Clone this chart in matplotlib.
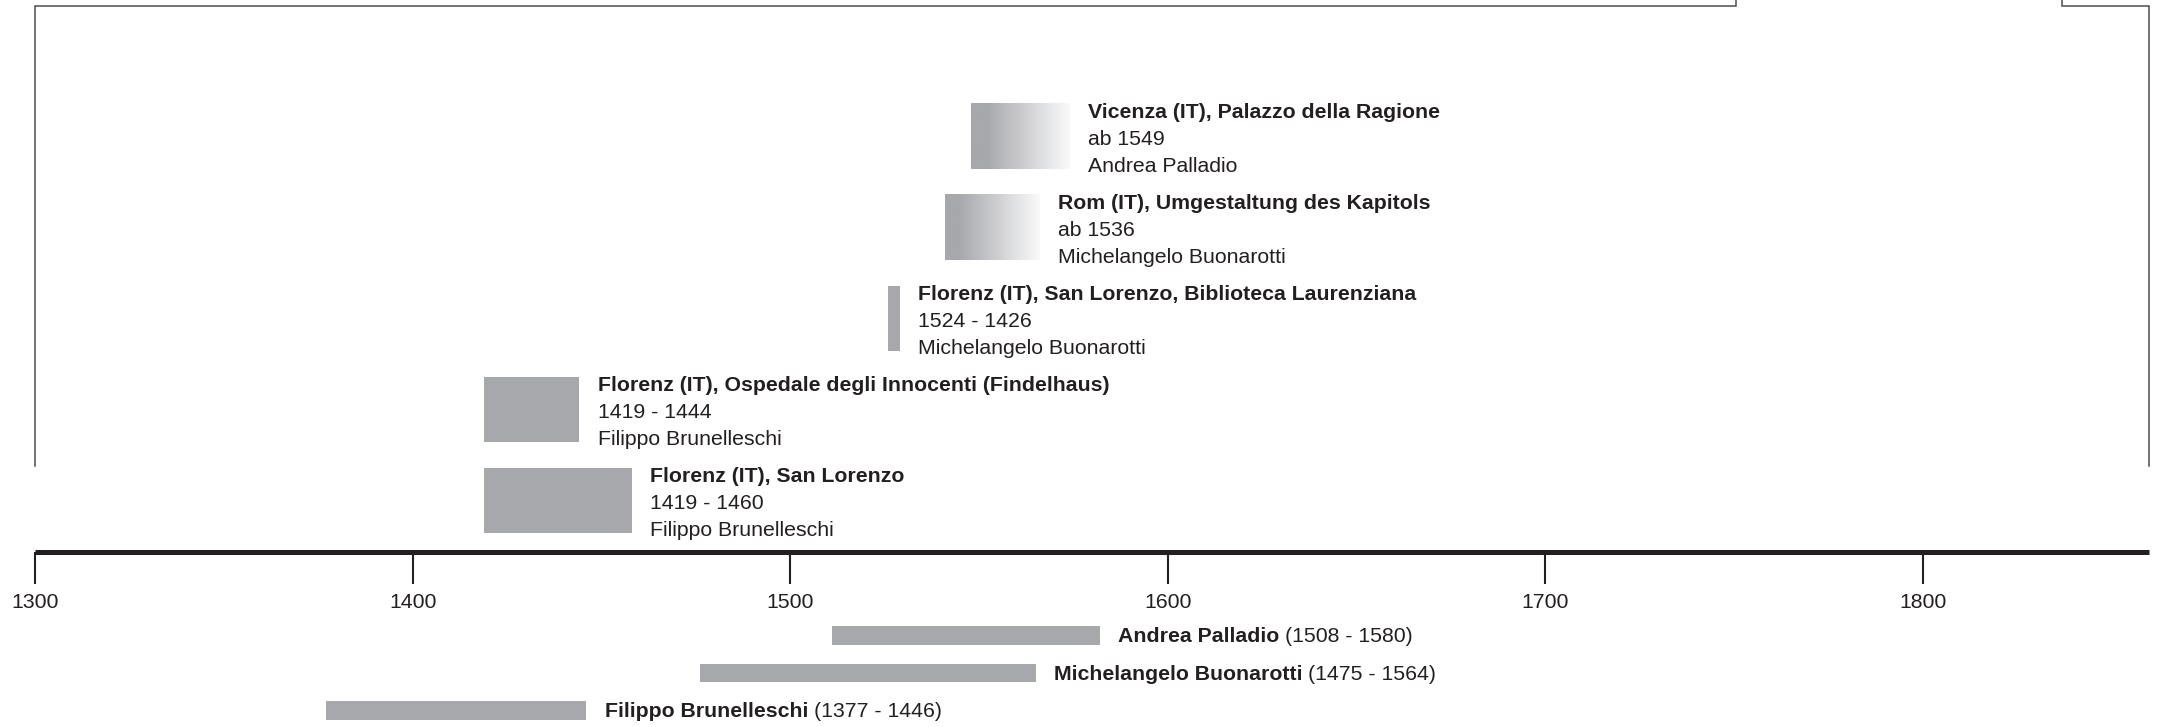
import numpy as np
import matplotlib
matplotlib.use("Agg")
import matplotlib.pyplot as plt
from matplotlib.colors import LinearSegmentedColormap

plt.rcParams['font.family'] = ['Liberation Sans', 'DejaVu Sans']

# --- buildings (bottom row first) ---
buildings = [
    "Florenz (IT), San Lorenzo",
    "Florenz (IT), Ospedale degli Innocenti (Findelhaus)",
    "Florenz (IT), San Lorenzo, Biblioteca Laurenziana",
    "Rom (IT), Umgestaltung des Kapitols",
    "Vicenza (IT), Palazzo della Ragione",
]
building_dates = ["1419 - 1460", "1419 - 1444", "1524 - 1426", "ab 1536", "ab 1549"]
building_architects = [
    "Filippo Brunelleschi",
    "Filippo Brunelleschi",
    "Michelangelo Buonarotti",
    "Michelangelo Buonarotti",
    "Andrea Palladio",
]
# spans as drawn on the timeline
building_start = [1419, 1419, 1526, 1541, 1548]
building_end = [1458, 1444, 1529, 1566, 1574]
building_open = [False, False, False, True, True]   # "ab ..." -> fading bar

# --- architects' lifespans (top row first) ---
persons = ["Andrea Palladio", "Michelangelo Buonarotti", "Filippo Brunelleschi"]
life_labels = ["(1508 - 1580)", "(1475 - 1564)", "(1377 - 1446)"]
life_start = [1511, 1476, 1377]
life_end = [1582, 1565, 1446]

years = [1300, 1400, 1500, 1600, 1700, 1800]

BAR = '#a7a8ac'
INK = '#231f20'
FS = 15.3

fig = plt.figure(figsize=(21.63, 7.27), dpi=100)
ax = fig.add_axes([0.01632, 0.2414, 0.9772, 0.7586])
ax2 = fig.add_axes([0.01632, 0.0, 0.9772, 0.2414], sharex=ax)

fade = LinearSegmentedColormap.from_list(
    'fade', [(0, BAR), (0.15, BAR), (1, '#fafafa')])
grad = np.linspace(0, 1, 256).reshape(1, -1)

# --- building bars ---
for i, name in enumerate(buildings):
    yc = i + 0.56
    h = 0.72
    x0, x1 = building_start[i], building_end[i]
    if building_open[i]:
        ax.imshow(grad, extent=(x0, x1, yc - h / 2, yc + h / 2), aspect='auto',
                  cmap=fade, interpolation='bilinear', zorder=2)
    else:
        ax.barh(yc, x1 - x0, left=x0, height=h, color=BAR, zorder=2)
    lines = [(name, 'bold', 17.4), (building_dates[i], 'normal', -2),
             (building_architects[i], 'normal', -21.4)]
    for txt, w, dy in lines:
        ax.annotate(txt, xy=(x1, yc), xytext=(13.5, dy), textcoords='offset points',
                    ha='left', va='center', fontsize=FS, fontweight=w, color=INK)

ax.set_xlim(1300, 1860)
ax.set_ylim(0, 6.06)
ax.set_xticks(years)
ax.set_xticklabels([str(y) for y in years])
ax.tick_params(axis='x', direction='out', length=22.7, width=1.5, color=INK,
               labelsize=FS, labelcolor=INK, pad=7)
ax.set_yticks([])
for s in ['left', 'right', 'top']:
    ax.spines[s].set_visible(False)
ax.spines['bottom'].set_linewidth(3.6)
ax.spines['bottom'].set_color(INK)
ax.spines['bottom'].set_capstyle('butt')
ax.set_facecolor('none')

# open frame around the upper part (gap at the top right)
frame_kw = dict(transform=ax.transAxes, color='#4d4d4d', lw=1.1, clip_on=False,
                solid_joinstyle='miter')
ax.plot([0, 0, 0.8046, 0.8046], [0.155, 0.989, 0.989, 1.0], **frame_kw)
ax.plot([0.9589, 0.9589, 1.0, 1.0], [1.0, 0.989, 0.989, 0.155], **frame_kw)

# --- lifespan bars ---
for i, p in enumerate(persons):
    yc = i + 2.24
    ax2.barh(yc, life_end[i] - life_start[i], left=life_start[i], height=0.5, color=BAR)
    t = ax2.annotate(p, xy=(life_end[i], yc), xytext=(13.5, -1), textcoords='offset points',
                     ha='left', va='center', fontsize=FS, fontweight='bold', color=INK)
    ax2.annotate(life_labels[i], xy=(1, 0), xycoords=t, xytext=(4, 0),
                 textcoords='offset points', ha='left', va='bottom',
                 fontsize=FS, color=INK)

ax2.set_ylim(4.68, 0)
ax2.axis('off')

fig.savefig('out.png', dpi=100)
